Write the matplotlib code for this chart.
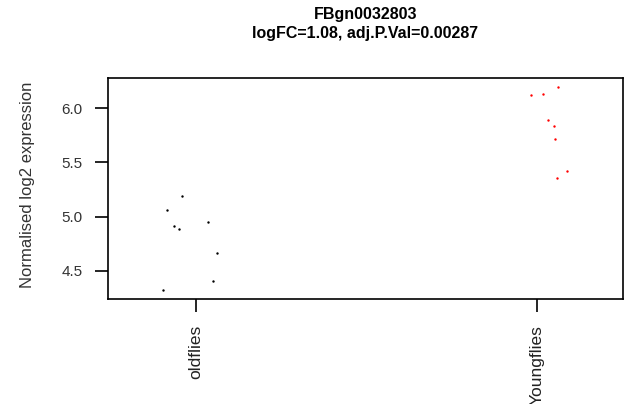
import matplotlib
matplotlib.use('Agg')
import matplotlib.pyplot as plt

plt.rcParams['font.family'] = ['Liberation Sans', 'DejaVu Sans']

# Data
groups = ['oldflies', 'Youngflies']
old_x = [0.960, 0.916, 0.935, 0.949, 1.034, 1.062, 1.050, 0.903]
old_y = [5.19, 5.06, 4.91, 4.89, 4.95, 4.66, 4.41, 4.32]
young_x = [2.061, 1.983, 2.018, 2.033, 2.049, 2.052, 2.088, 2.058]
young_y = [6.20, 6.12, 6.13, 5.89, 5.84, 5.72, 5.42, 5.36]
yticks = [4.5, 5.0, 5.5, 6.0]
gene = 'FBgn0032803'
stats = 'logFC=1.08, adj.P.Val=0.00287'

fig = plt.figure(figsize=(6.28, 4.04), dpi=100)
ax = fig.add_axes([0.172, 0.26, 0.82, 0.547])

ax.scatter(old_x, old_y, s=3, color='black', linewidths=0)
ax.scatter(young_x, young_y, s=3, color='red', linewidths=0)

ax.set_xlim(0.742, 2.252)
ax.set_ylim(4.24, 6.28)
ax.set_xticks([1, 2])
ax.set_xticklabels(groups, rotation=90, fontsize=12.5, color='#222222')
ax.set_yticks(yticks)
ax.set_yticklabels([f'{v:.1f}' for v in yticks], fontsize=11, color='#333333')
ax.tick_params(direction='out', length=9.5, width=1.2, pad=9)
for sp in ax.spines.values():
    sp.set_linewidth(1.2)

fig.text(0.043, 0.542, 'Normalised log2 expression', rotation=90, ha='center', va='center',
         fontsize=12, color='#333333')
fig.text(0.582, 0.963, gene, ha='center', va='center', fontsize=11.5, fontweight='bold')
fig.text(0.582, 0.918, stats, ha='center', va='center', fontsize=11.5, fontweight='bold')

fig.savefig('out.png', dpi=100)
